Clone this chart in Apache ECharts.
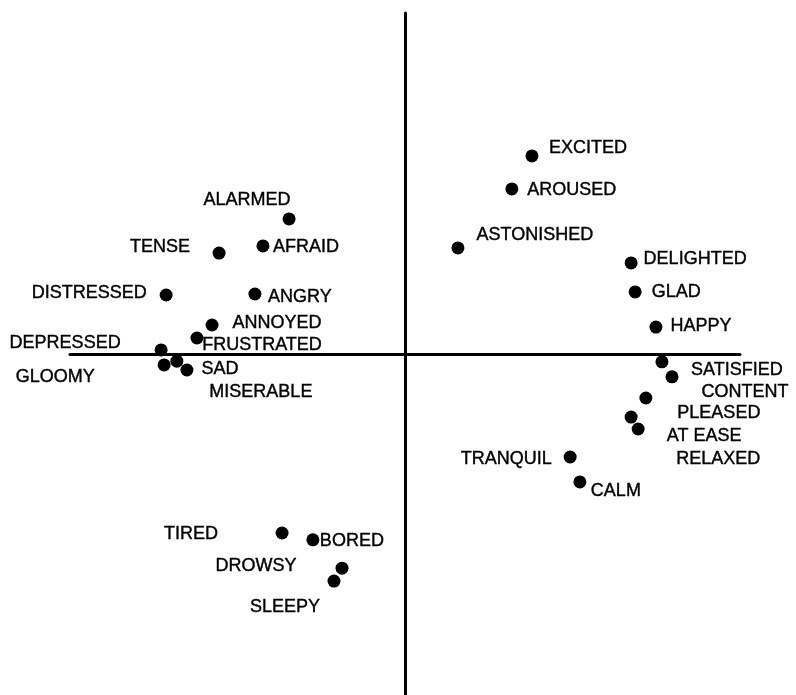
<!DOCTYPE html>
<html>
<head>
<meta charset="utf-8">
<script src="https://cdn.jsdelivr.net/npm/echarts@6/dist/echarts.min.js"></script>
<style>html,body{margin:0;padding:0;background:#fff;}#c{width:796px;height:695px;}</style>
</head>
<body>
<div id="c"></div>
<script>
const words = ["EXCITED","AROUSED","ASTONISHED","DELIGHTED","GLAD","HAPPY","SATISFIED","CONTENT","PLEASED","AT EASE","RELAXED","TRANQUIL","CALM","ALARMED","AFRAID","TENSE","DISTRESSED","ANGRY","ANNOYED","FRUSTRATED","DEPRESSED","GLOOMY","MISERABLE","SAD","TIRED","BORED","DROWSY","SLEEPY"];
const pleasure = [0.379,0.319,0.158,0.675,0.687,0.749,0.767,0.797,0.719,0.675,0.696,0.493,0.522,-0.346,-0.424,-0.555,-0.713,-0.448,-0.576,-0.621,-0.728,-0.719,-0.681,-0.651,-0.367,-0.275,-0.188,-0.212];
const arousal = [0.581,0.484,0.311,0.267,0.182,0.079,-0.023,-0.067,-0.129,-0.185,-0.220,-0.302,-0.375,0.396,0.317,0.296,0.173,0.176,0.085,0.047,0.012,-0.032,-0.021,-0.047,-0.525,-0.545,-0.628,-0.666];
// label offsets (px) from dot centre, layout only
const labelOffsets = [[56,-8],[60,1],[77,-13],[64,-4],[41,0],[45,-1],[75,8],[73,15],[73,15],[73,19],[80,30],[-64,2],[36,9],[-42,-19],[43,1],[-59,-6],[-77,-2],[45,3],[65,-2],[65,7],[-96,-7],[-109,12],[84,31],[33,-1],[-91,1],[39,1],[-86,-2],[-49,26]];

const data = words.map((w,i)=>({
  name:w,
  value:[pleasure[i],arousal[i]],
  label:{offset:labelOffsets[i]}
}));

const chart = echarts.init(document.getElementById('c'));
chart.setOption({
  animation:false,
  backgroundColor:'#fff',
  grid:{left:70,right:56,top:13,bottom:0,containLabel:false},
  xAxis:{type:'value',min:-1,max:1,axisLine:{onZero:true,lineStyle:{color:'#000',width:3}},axisTick:{show:false},axisLabel:{show:false},splitLine:{show:false}},
  yAxis:{type:'value',min:-1,max:1,axisLine:{onZero:true,lineStyle:{color:'#000',width:3}},axisTick:{show:false},axisLabel:{show:false},splitLine:{show:false}},
  series:[{
    type:'scatter',
    symbol:'circle',
    symbolSize:13,
    itemStyle:{color:'#000',opacity:1},
    label:{show:true,position:'inside',align:'center',verticalAlign:'middle',formatter:'{b}',color:'#000',fontFamily:'Liberation Sans',fontSize:18,textBorderColor:'#000',textBorderWidth:0.4},
    data:data
  }]
});
</script>
</body>
</html>
